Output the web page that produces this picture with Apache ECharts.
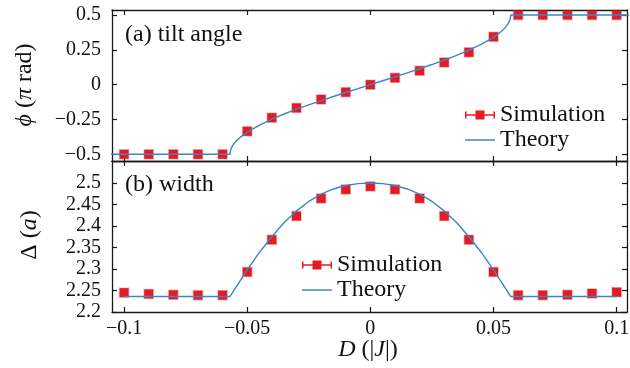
<!DOCTYPE html>
<html>
<head>
<meta charset="utf-8">
<script src="https://cdn.jsdelivr.net/npm/echarts@6/dist/echarts.min.js"></script>
<style>
html, body { margin: 0; padding: 0; background: #fff; }
#main { width: 630px; height: 368px; }
</style>
</head>
<body>
<div id="main"></div>
<script>
// simulation points (D in |J|)
var D = [-0.1, -0.09, -0.08, -0.07, -0.06, -0.05, -0.04, -0.03, -0.02, -0.01, 0,
         0.01, 0.02, 0.03, 0.04, 0.05, 0.06, 0.07, 0.08, 0.09, 0.1];
var phiSim = [-0.5, -0.5, -0.5, -0.5, -0.5, -0.335, -0.237, -0.167, -0.106, -0.054, 0,
              0.049, 0.1, 0.16, 0.232, 0.344, 0.5, 0.5, 0.5, 0.5, 0.5];
var widthSim = [2.245, 2.242, 2.240, 2.239, 2.239, 2.293, 2.368, 2.423, 2.464, 2.485, 2.492,
                2.485, 2.464, 2.423, 2.368, 2.293, 2.239, 2.239, 2.240, 2.243, 2.246];

// theory curves
var phiThD = [-0.11, -0.057, -0.0568, -0.0565, -0.056, -0.055, -0.054, -0.052, -0.05, -0.045,
              -0.04, -0.035, -0.03, -0.025, -0.02, -0.015, -0.01, -0.005, 0,
              0.005, 0.01, 0.015, 0.02, 0.025, 0.03, 0.035, 0.04, 0.045, 0.05,
              0.052, 0.054, 0.055, 0.056, 0.0565, 0.0568, 0.057, 0.11];
var phiTh = [-0.5, -0.5, -0.473, -0.458, -0.44, -0.415, -0.396, -0.366, -0.34, -0.29,
             -0.248, -0.2105, -0.176, -0.1445, -0.114, -0.085, -0.056, -0.028, 0,
             0.028, 0.056, 0.085, 0.114, 0.1445, 0.176, 0.2105, 0.248, 0.29, 0.34,
             0.366, 0.396, 0.415, 0.44, 0.458, 0.473, 0.5, 0.5];
var widthThD = [-0.1, -0.057, -0.055, -0.05, -0.045, -0.04, -0.035, -0.03, -0.025, -0.02,
                -0.015, -0.01, -0.005, 0, 0.005, 0.01, 0.015, 0.02, 0.025, 0.03,
                0.035, 0.04, 0.045, 0.05, 0.055, 0.057, 0.1];
var widthTh = [2.236, 2.236, 2.254, 2.298, 2.339, 2.375, 2.408, 2.435, 2.457, 2.474,
               2.486, 2.494, 2.4985, 2.5, 2.4985, 2.494, 2.486, 2.474, 2.457, 2.435,
               2.408, 2.375, 2.339, 2.298, 2.254, 2.236, 2.236];

// tick labels
var xTicks = [-0.1, -0.05, 0, 0.05, 0.1];
var phiTicks = [-0.5, -0.25, 0, 0.25, 0.5];
var widthTicks = [2.2, 2.25, 2.3, 2.35, 2.4, 2.45, 2.5];

var SERIF = '"Liberation Serif", "DejaVu Serif", serif';
var FRAME = '#1a1a1a';
var TXT = '#111';
var RED = '#e31b23';
var BLUE = '#3a86c8';
var ERRBAR = 'path://M0,1h1.5v7h-1.5z M28.5,1h1.5v7h-1.5z M0,3.75h30v1.5h-30z M10.5,0h9v9h-9z';
var LINEICON = 'path://M0,0h30v1.5h-30z';

var myChart = echarts.init(document.getElementById('main'));

function fmt(v) {
    return (v < 0 ? '\u2212' : '') + Math.abs(v);
}
function zip(xs, ys) {
    return xs.map(function (x, i) { return [x, ys[i]]; });
}
function xAx(grid, pos, labels) {
    return {
        type: 'value', gridIndex: grid, position: pos, min: -0.1049, max: 0.1042,
        axisLine: {show: true, onZero: false, lineStyle: {color: FRAME, width: 1.3}},
        axisTick: {show: true, inside: true, length: 5, customValues: xTicks,
                   lineStyle: {color: FRAME, width: 1.2}},
        axisLabel: {show: labels, customValues: xTicks, formatter: fmt, margin: 7,
                    color: TXT, fontFamily: SERIF, fontSize: 20},
        splitLine: {show: false}
    };
}
function yAx(grid, pos, labels, min, max, ticks) {
    return {
        type: 'value', gridIndex: grid, position: pos, min: min, max: max,
        axisLine: {show: true, onZero: false, lineStyle: {color: FRAME, width: 1.3}},
        axisTick: {show: true, inside: true, length: 5, customValues: ticks,
                   lineStyle: {color: FRAME, width: 1.2}},
        axisLabel: {show: labels, customValues: ticks, formatter: fmt, margin: 11,
                    color: TXT, fontFamily: SERIF, fontSize: 20},
        splitLine: {show: false}
    };
}
function legendAt(left, top) {
    return {
        left: left, top: top, orient: 'vertical', itemGap: 1,
        itemWidth: 30, itemHeight: 9, selectedMode: false,
        itemStyle: {borderWidth: 0},
        textStyle: {fontFamily: SERIF, fontSize: 24, color: TXT},
        data: [{name: 'Simulation', icon: ERRBAR}, {name: 'Theory', icon: LINEICON}]
    };
}
var rich = {
    i: {fontStyle: 'italic', fontFamily: SERIF, fontSize: 24, fill: TXT}
};
function label(x, y, text, rot, align) {
    return {
        type: 'text', x: x, y: y, rotation: rot || 0, silent: true,
        style: {text: text, fill: TXT, fontFamily: SERIF, fontSize: 24,
                align: align || 'center', verticalAlign: 'middle', rich: rich}
    };
}
var simStyle = {color: RED, opacity: 1, borderColor: 'rgba(227,27,35,0.35)', borderWidth: 1.5};

var option = {
    backgroundColor: '#fff',
    animation: false,
    grid: [
        {left: 112, right: 3, top: 10, height: 151, outerBoundsMode: 'none'},
        {left: 112, right: 3, top: 161, bottom: 56, outerBoundsMode: 'none'}
    ],
    xAxis: [
        xAx(0, 'bottom', false), xAx(0, 'top', false),
        xAx(1, 'bottom', true), xAx(1, 'top', false)
    ],
    yAxis: [
        yAx(0, 'left', true, -0.548, 0.536, phiTicks), yAx(0, 'right', false, -0.548, 0.536, phiTicks),
        yAx(1, 'left', true, 2.2, 2.551, widthTicks), yAx(1, 'right', false, 2.2, 2.551, widthTicks)
    ],
    legend: [legendAt(460, 98), legendAt(297, 248)],
    graphic: [
        label(125, 35, '(a) tilt angle', 0, 'left'),
        label(125, 185, '(b) width', 0, 'left'),
        label(25, 85, '{i|\u03d5} ({i|\u03c0} rad)', Math.PI / 2),
        label(30, 235, '\u0394 ({i|a})', Math.PI / 2),
        label(368, 350, '{i|D} (|{i|J}|)', 0)
    ],
    series: [
        {
            name: 'Simulation', type: 'scatter', xAxisIndex: 0, yAxisIndex: 0,
            data: zip(D, phiSim), symbol: 'rect', symbolSize: 9, z: 2,
            itemStyle: simStyle
        },
        {
            name: 'Theory', type: 'line', xAxisIndex: 0, yAxisIndex: 0,
            data: zip(phiThD, phiTh), symbol: 'none', showSymbol: false, z: 3, clip: true,
            lineStyle: {color: BLUE, width: 1.4}, itemStyle: {color: BLUE}
        },
        {
            name: 'Simulation', type: 'scatter', xAxisIndex: 2, yAxisIndex: 2,
            data: zip(D, widthSim), symbol: 'rect', symbolSize: 9, z: 2,
            itemStyle: simStyle
        },
        {
            name: 'Theory', type: 'line', xAxisIndex: 2, yAxisIndex: 2,
            data: zip(widthThD, widthTh), symbol: 'none', showSymbol: false, z: 3, clip: true,
            lineStyle: {color: BLUE, width: 1.4}, itemStyle: {color: BLUE}
        }
    ]
};
myChart.setOption(option);
</script>
</body>
</html>
